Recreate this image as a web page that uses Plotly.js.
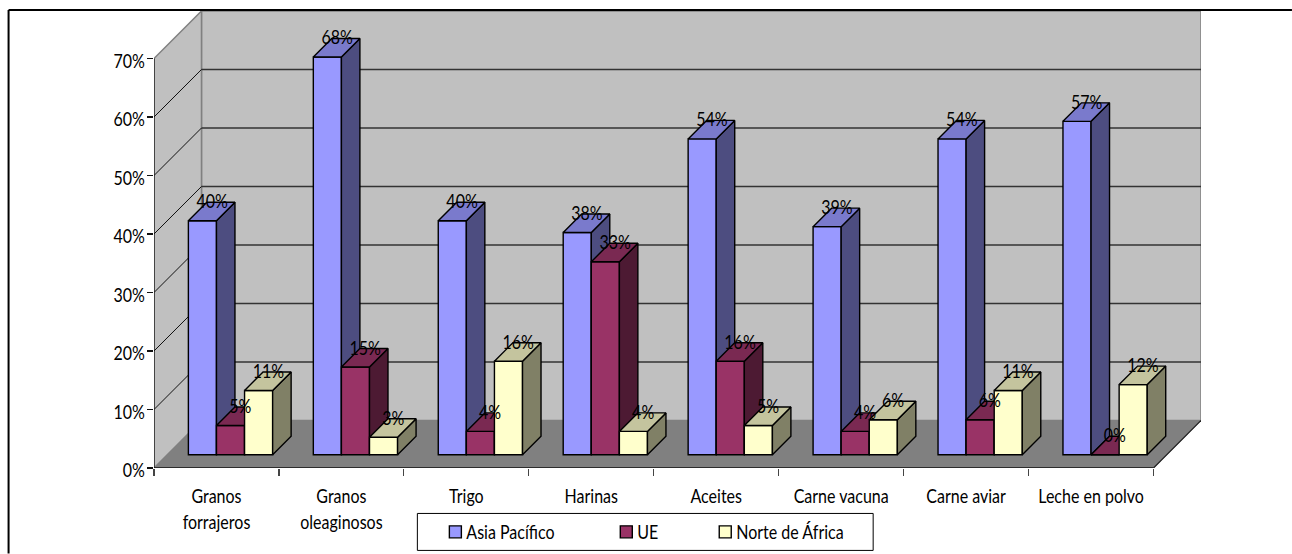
<!DOCTYPE html>
<html>
<head>
<meta charset="utf-8">
<script src="https://cdn.plot.ly/plotly-3.0.1.min.js"></script>
<style>html,body{margin:0;padding:0;background:#fff}#chart{width:1292px;height:554px}</style>
</head>
<body>
<div id="chart"></div>
<script>
// Shares by product and destination region
const categories = ['Granos<br>forrajeros', 'Granos<br>oleaginosos', 'Trigo', 'Harinas', 'Aceites', 'Carne vacuna', 'Carne aviar', 'Leche en polvo'];
const asiaPacifico = [40, 68, 40, 38, 54, 39, 54, 57];
const ue = [5, 15, 4, 33, 16, 4, 6, 0];
const norteAfrica = [11, 3, 16, 4, 5, 6, 11, 12];
const seriesNames = ['Asia Pacífico', 'UE', 'Norte de África'];
const yTicks = [0, 10, 20, 30, 40, 50, 60, 70];

const FONT = 'Lato, "Open Sans", sans-serif';
const FS = 16;
const TEXT_TALL = 1.25;   // all chart text is drawn narrow and tall

// Plot frame in pixels; one category is 125px wide, one percent is 5.85px tall
const W = 1292, H = 554;
const L = 153.5, R = 1201, T = 11, B = 468.5;
const pxX = 125, pxY = 5.85;
const wallDX = 47.5 / pxX, wallDY = 47.5 / pxY;   // depth of the room
const barDX = 18.5 / pxX, barDY = 18.5 / pxY;     // depth of a column
const barW = 28.1 / pxX;
const firstBar = 34.4 / pxX;                      // gap from category edge to first column
const barBase = 13.2 / pxY;                       // columns stand set back from the front edge
const yMax = yTicks[yTicks.length - 1];
const nCat = categories.length;

const series = [
  {name: seriesNames[0], v: asiaPacifico, front: '#9999FF', top: '#7A7ACC', side: '#4D4D80', legend: 'legend'},
  {name: seriesNames[1], v: ue, front: '#993366', top: '#7A2952', side: '#4D1A33', legend: 'legend2'},
  {name: seriesNames[2], v: norteAfrica, front: '#FFFFCC', top: '#C4C49E', side: '#808066', legend: 'legend3'}
];

const traces = [];
const labelX = [], labelY = [], labelT = [];

series.forEach((s, si) => {
  const left = s.v.map((_, c) => c + firstBar + si * barW);
  const tops = s.v.map(v => v + barBase);
  const sideX = [], sideY = [], topX = [], topY = [];
  s.v.forEach((v, c) => {
    const x0 = left[c], x1 = x0 + barW, y1 = tops[c];
    topX.push(x0, x1, x1 + barDX, x0 + barDX, x0, null);
    topY.push(y1, y1, y1 + barDY, y1 + barDY, y1, null);
    if (v > 0) {
      sideX.push(x1, x1 + barDX, x1 + barDX, x1, x1, null);
      sideY.push(barBase, barBase + barDY, y1 + barDY, y1, barBase, null);
    }
    labelX.push(x0 + barW / 2 + barDX / 2 + 0.004);
    labelY.push(y1 + barDY - 0.1);
    labelT.push(v + '%');
  });
  traces.push({
    type: 'bar', name: s.name, legend: s.legend, showlegend: true, zorder: si + 1,
    x: left.map(x => x + barW / 2), y: s.v, base: s.v.map(() => barBase), width: barW,
    marker: {color: s.front, line: {color: '#000', width: 1.4}}, hoverinfo: 'skip'
  });
  traces.push({
    type: 'scatter', mode: 'lines', x: sideX, y: sideY, fill: 'toself', fillcolor: s.side,
    line: {color: '#000', width: 1.4}, showlegend: false, hoverinfo: 'skip', zorder: si + 1
  });
  traces.push({
    type: 'scatter', mode: 'lines', x: topX, y: topY, fill: 'toself', fillcolor: s.top,
    line: {color: '#000', width: 1.4}, showlegend: false, hoverinfo: 'skip', zorder: si + 1
  });
});

// Value labels sit on the rear edge of each column's top
traces.push({
  type: 'scatter', mode: 'text', x: labelX, y: labelY, text: labelT, textposition: 'middle center',
  textfont: {family: FONT, size: FS, color: '#000'}, showlegend: false, hoverinfo: 'skip', zorder: 5, cliponaxis: false
});

const xEnd = nCat + wallDX, yEnd = yMax + wallDY;
const dataShape = (path, fill, lineColor, lineW) => ({
  type: 'path', xref: 'x', yref: 'y', layer: 'below', path,
  fillcolor: fill, line: {color: lineColor, width: lineW}
});
const seg = (x0, y0, x1, y1, color, w) => ({
  type: 'line', xref: 'x', yref: 'y', layer: 'below', x0, y0, x1, y1, line: {color, width: w}
});
const shapes = [
  dataShape(`M${wallDX},${wallDY}H${xEnd}V${yEnd}H${wallDX}Z`, '#C0C0C0', '#808080', 1.5),
  dataShape(`M0,0L${wallDX},${wallDY}V${yEnd}L0,${yMax}Z`, '#C0C0C0', '#808080', 1.5),
  dataShape(`M0,0L${wallDX},${wallDY}H${xEnd}L${nCat},0Z`, '#808080', '#808080', 1)
];
yTicks.filter(t => t > 0 && t < yMax).forEach(t => {
  shapes.push(seg(wallDX, t + wallDY, xEnd, t + wallDY, '#333', 1.4));
  shapes.push(seg(0, t, wallDX, t + wallDY, '#111', 1));
});
shapes.push(seg(0, 0, nCat, 0, '#111', 1.4));
shapes.push(seg(nCat, 0, xEnd, wallDY, '#222', 1.2));
shapes.push(seg(0, 0, 0, yMax, '#111', 1.2));

// Frame of the chart area and box around the legend, given in page pixels
const paperX = px => (px - L) / (R - L);
const paperY = py => (B - py) / (B - T);
const pageLine = (x0, y0, x1, y1) => ({
  type: 'line', xref: 'paper', yref: 'paper',
  x0: paperX(x0), y0: paperY(y0), x1: paperX(x1), y1: paperY(y1), line: {color: '#000', width: 2}
});
shapes.push(pageLine(8, 10, W, 10));
shapes.push(pageLine(8, 10, 8, H));
shapes.push({
  type: 'rect', xref: 'paper', yref: 'paper', x0: paperX(417), x1: paperX(873), y0: paperY(551), y1: paperY(514),
  fillcolor: '#fff', line: {color: '#000', width: 1}
});

const legendAt = px => ({
  x: paperX(px), y: paperY(532.5), xanchor: 'left', yanchor: 'middle', bgcolor: 'rgba(0,0,0,0)', borderwidth: 0,
  font: {family: FONT, size: FS, color: '#000'}
});

const layout = {
  width: W, height: H, margin: {l: L, r: W - R, t: T, b: H - B, pad: 0, autoexpand: false},
  paper_bgcolor: '#fff', plot_bgcolor: 'rgba(0,0,0,0)', barmode: 'overlay',
  font: {family: FONT, size: FS, color: '#000'},
  xaxis: {
    range: [0, xEnd], tickmode: 'array', tickvals: categories.map((_, i) => i + 0.5), ticktext: categories,
    ticks: '', showgrid: false, zeroline: false, showline: false, tickangle: 0, ticklabelstandoff: 17,
    minor: {tickmode: 'array', tickvals: categories.map((_, i) => i).concat(nCat), ticks: 'outside', ticklen: 7, tickwidth: 1.2, tickcolor: '#444', showgrid: false},
    tickfont: {family: FONT, size: FS, color: '#000'}
  },
  yaxis: {
    range: [0, yEnd], tickmode: 'array', tickvals: yTicks, ticktext: yTicks.map(t => t + '%'),
    ticks: 'outside', ticklen: 6, tickwidth: 1.2, tickcolor: '#111', showgrid: false, zeroline: false, showline: false,
    ticklabelstandoff: -1, ticklabelshift: 2,
    tickfont: {family: FONT, size: FS, color: '#000'}
  },
  legend: legendAt(426), legend2: legendAt(597), legend3: legendAt(696),
  shapes
};

Plotly.newPlot('chart', traces, layout, {displayModeBar: false, staticPlot: true}).then(gd => {
  // Stretch each text upward and downward about its first line
  gd.querySelectorAll('.xtick text, .ytick text, .textpoint text, .legendtext, .legend2text, .legend3text').forEach(t => {
    const cy = parseFloat(t.getAttribute('y') || 0) - 0.35 * FS;
    const prior = t.getAttribute('transform') || '';
    t.setAttribute('transform', `${prior} translate(0 ${cy}) scale(1 ${TEXT_TALL}) translate(0 ${-cy})`);
  });
  // Bring legend swatches closer to their names
  gd.querySelectorAll('.legendpoints').forEach(p => p.setAttribute('transform', 'translate(9,0)'));
});
</script>
</body>
</html>
